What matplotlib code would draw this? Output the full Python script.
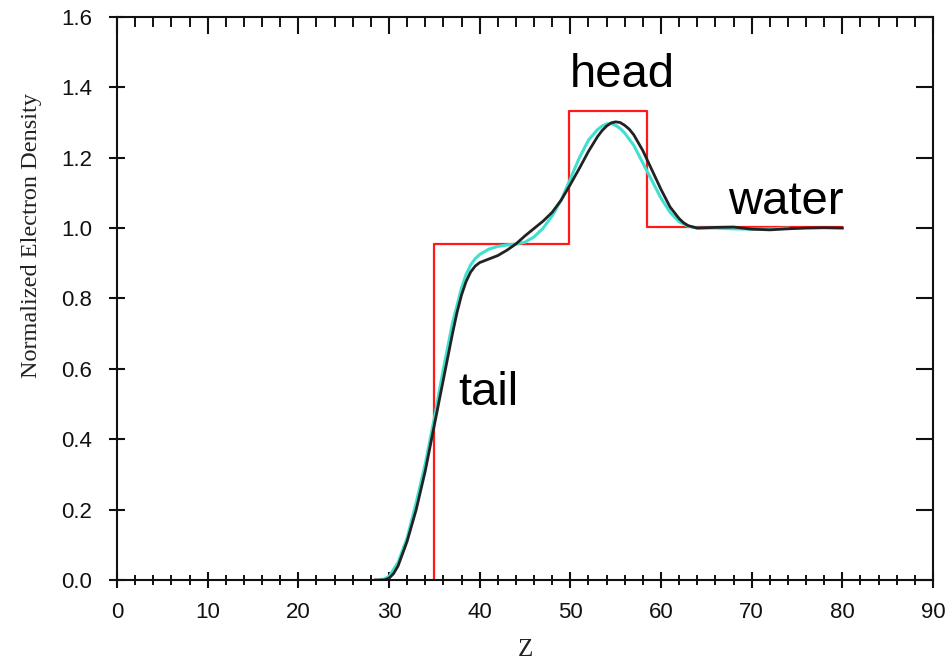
import matplotlib
matplotlib.use("Agg")
import matplotlib.pyplot as plt
from matplotlib.ticker import MultipleLocator

# step model (red)
step_z = [35.0, 35.0, 49.9, 49.9, 58.4, 58.4, 80.0]
step_rho = [0.0, 0.955, 0.955, 1.332, 1.332, 1.004, 1.004]

# fitted profile (black)
fit_z = [28.5, 29.5, 30, 30.5, 31, 32, 33, 34, 35, 36, 37, 37.5, 38, 38.5, 39,
         39.5, 40, 41, 42, 43, 44, 45, 46, 47, 48, 49, 50, 51, 52, 53, 53.5,
         54, 54.5, 55, 55.5, 56, 56.5, 57, 58, 59, 60, 61, 62, 62.5, 63, 64,
         66, 68, 70, 72, 74, 76, 78, 80]
fit_rho = [0.0, 0.0, 0.005, 0.018, 0.04, 0.11, 0.2, 0.31, 0.44, 0.57, 0.7,
           0.76, 0.81, 0.848, 0.875, 0.892, 0.902, 0.912, 0.922, 0.937, 0.955,
           0.978, 0.999, 1.02, 1.045, 1.08, 1.124, 1.17, 1.218, 1.26, 1.277,
           1.29, 1.299, 1.302, 1.3, 1.292, 1.281, 1.265, 1.22, 1.165, 1.11,
           1.06, 1.027, 1.015, 1.007, 1.0, 1.002, 1.003, 0.997, 0.995, 0.998,
           1.0, 1.001, 1.0]

# second profile (cyan)
alt_z = [29, 29.5, 30, 31, 32, 33, 34, 35, 36, 37, 38, 38.5, 39, 39.5, 40, 41,
         42, 43, 44, 45, 46, 47, 48, 49, 50, 51, 52, 53, 53.5, 54, 54.5, 55,
         55.5, 56, 57, 58, 59, 60, 61, 62, 63, 64, 66, 68, 70, 72, 74]
alt_rho = [0.0, 0.003, 0.01, 0.05, 0.12, 0.22, 0.33, 0.46, 0.6, 0.73, 0.83,
           0.868, 0.895, 0.913, 0.925, 0.94, 0.948, 0.952, 0.955, 0.96, 0.975,
           1.0, 1.035, 1.08, 1.14, 1.2, 1.25, 1.28, 1.29, 1.296, 1.297, 1.292,
           1.283, 1.27, 1.235, 1.185, 1.135, 1.085, 1.045, 1.018, 1.005, 1.0,
           1.0, 0.998, 0.997, 0.998, 1.0]

labels = [("head", 49.9, 1.40), ("water", 67.4, 1.04), ("tail", 37.6, 0.497)]

fig = plt.figure(figsize=(9.48, 6.63), dpi=100)
ax = fig.add_axes([0.1234, 0.1252, 0.8608, 0.8492])

ax.plot(step_z, step_rho, color="#ff1a1a", lw=1.6)
ax.plot(alt_z, alt_rho, color="#40e0d0", lw=2.2)
ax.plot(fit_z, fit_rho, color="#222222", lw=2.0)

for txt, x, y in labels:
    ax.text(x, y, txt, fontsize=34, family="Liberation Sans",
            ha="left", va="baseline")

ax.set_xlim(0, 90)
ax.set_ylim(0, 1.6)
ax.xaxis.set_major_locator(MultipleLocator(10))
ax.xaxis.set_minor_locator(MultipleLocator(2))
ax.yaxis.set_major_locator(MultipleLocator(0.2))
ax.yaxis.set_major_formatter(lambda v, p: f"{v:.1f}")

for s in ax.spines.values():
    s.set_linewidth(1.5)
    s.set_color("#111111")

ax.tick_params(axis="x", which="major", direction="inout", length=12, width=1.5,
               top=True, labelsize=16, pad=10, colors="#111111")
ax.tick_params(axis="x", which="minor", direction="inout", length=7, width=1.3,
               top=True)
ax.tick_params(axis="y", which="major", direction="inout", length=12, width=1.5,
               right=True, labelsize=16, pad=12, colors="#111111")
for t in ax.xaxis.get_major_ticks() + ax.xaxis.get_minor_ticks():
    t.tick2line.set_marker(3)  # top ticks pointing in
for t in ax.yaxis.get_major_ticks():
    t.tick2line.set_marker(0)
for lab in ax.get_xticklabels() + ax.get_yticklabels():
    lab.set_family("Liberation Sans")

ax.set_ylabel("Normalized Electron Density", family="Liberation Serif",
              fontsize=17.5, color="#222222")
ax.yaxis.set_label_coords(-0.092, 0.611)
ax.set_xlabel("Z", family="Liberation Serif", fontsize=18, color="#222222")
ax.xaxis.set_label_coords(0.5, -0.105)

fig.savefig("out.png", dpi=100)
